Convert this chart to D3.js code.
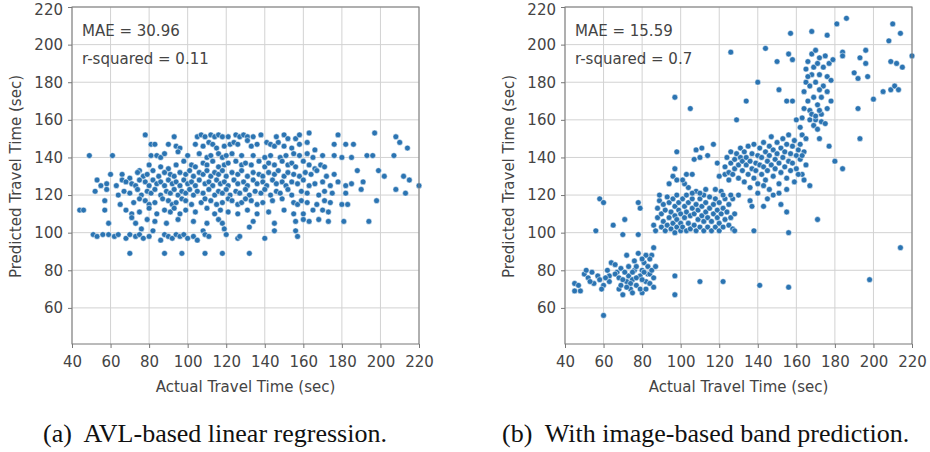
<!DOCTYPE html>
<html><head><meta charset="utf-8">
<script src="https://cdn.jsdelivr.net/npm/d3@7"></script>
<style>body{margin:0;background:#fff}svg{display:block}</style>
</head><body>
<svg id="c" width="930" height="452"></svg>
<script>
const xTicks=[40,60,80,100,120,140,160,180,200,220];
const yTicks=[60,80,100,120,140,160,180,200,220];
const xLabel="Actual Travel Time (sec)";
const yLabel="Predicted Travel Time (sec)";
const statsA=["MAE = 30.96","r-squared = 0.11"];
const statsB=["MAE = 15.59","r-squared = 0.7"];
const captions=["(a)  AVL-based linear regression.","(b)  With image-based band prediction."];

// (a) AVL-based linear regression: [actual, predicted]
const pointsA=[
[78,152],[93,151],[105,151],[107,152],[109,151],[112,152],[114,151],[116,152],[118,151],[121,151],[125,152],[127,151],[129,152],[131,151],[134,151],[138,152],[146,151],[150,152],[152,150],[156,150],[158,152],[163,153],[178,152],[197,153],[208,151],
[81,147],[83,147],[90,147],[94,146],[96,145],[104,147],[108,146],[111,148],[113,147],[115,145],[119,146],[122,147],[124,148],[126,147],[131,149],[133,146],[136,147],[141,148],[143,147],[145,146],[147,148],[150,146],[154,145],[158,147],[162,148],[166,144],[176,147],[182,147],[186,147],[210,148],[214,145],
[49,141],[61,141],[81,141],[84,141],[86,140],[88,142],[95,143],[100,141],[106,142],[110,140],[112,141],[116,142],[118,140],[120,141],[123,142],[128,141],[134,141],[140,140],[143,141],[148,140],[151,141],[155,142],[158,141],[162,142],[165,140],[170,141],[176,141],[180,140],[185,140],[193,141],[196,141],[207,141],
[75,133],[80,136],[86,135],[90,134],[94,136],[98,138],[102,136],[104,135],[108,137],[110,136],[113,138],[116,135],[119,136],[121,137],[125,138],[128,136],[130,137],[133,136],[137,138],[140,135],[142,137],[145,136],[149,138],[152,136],[154,137],[156,135],[160,138],[163,136],[166,134],[169,136],[171,135],
[60,131],[66,131],[70,129],[74,132],[77,130],[79,131],[82,133],[85,130],[88,132],[91,131],[93,130],[96,132],[99,131],[101,133],[103,130],[106,132],[108,131],[110,133],[112,130],[114,132],[116,131],[118,133],[120,130],[123,132],[126,131],[128,133],[131,130],[134,132],[137,131],[139,130],[142,132],[145,131],[147,133],[150,130],[152,132],[155,131],[158,130],[161,132],[164,131],[167,133],[172,130],[176,131],[188,133],[199,133],[202,130],[212,130],
[53,128],[55,125],[58,126],[63,125],[66,128],[68,127],[71,126],[73,125],[75,128],[78,127],[80,125],[82,128],[84,126],[86,127],[88,125],[90,128],[92,126],[94,127],[96,125],[98,128],[100,126],[102,127],[104,125],[106,128],[109,126],[111,127],[113,125],[115,128],[117,126],[119,127],[121,125],[124,128],[126,126],[129,127],[131,125],[134,128],[136,126],[139,127],[141,125],[144,128],[146,126],[149,127],[151,125],[154,127],[157,126],[160,128],[163,125],[166,126],[170,127],[174,125],[178,127],[182,125],[191,127],[208,123],[215,128],[220,125],[185,126],
[52,122],[58,123],[64,120],[67,122],[70,121],[74,123],[76,120],[79,122],[81,121],[83,123],[86,120],[89,122],[91,121],[93,123],[95,120],[97,122],[99,121],[101,123],[103,120],[105,122],[108,121],[111,123],[114,120],[116,122],[118,121],[120,123],[122,120],[125,122],[127,121],[130,123],[132,120],[135,122],[138,121],[140,123],[143,120],[146,122],[148,121],[152,123],[154,120],[159,122],[162,121],[168,120],[171,122],[175,121],[182,121],[190,123],[213,121],
[57,117],[65,115],[72,116],[75,118],[78,117],[80,115],[83,116],[87,118],[90,117],[92,115],[94,116],[97,118],[99,117],[102,115],[107,116],[109,118],[112,117],[115,115],[118,116],[121,118],[123,117],[126,115],[128,116],[130,118],[133,117],[136,115],[139,116],[144,117],[149,118],[155,116],[157,115],[159,117],[162,116],[167,115],[171,117],[174,116],[180,115],[183,115],[198,117],
[44,112],[46,112],[57,112],[68,112],[71,110],[75,111],[80,113],[84,110],[88,112],[91,111],[93,113],[96,110],[99,112],[104,111],[110,113],[114,110],[117,112],[121,111],[126,110],[131,112],[136,110],[142,111],[150,112],[155,110],[160,110],[165,112],[170,112],[173,111],
[59,105],[71,108],[73,105],[79,107],[83,106],[89,105],[95,107],[103,106],[110,105],[116,107],[118,105],[134,106],[145,105],[156,106],[160,107],[163,106],[168,107],[173,106],[181,106],[194,106],
[76,102],[82,101],[108,101],[119,102],[132,103],[145,101],[156,101],[157,98],
[51,99],[53,98],[56,99],[59,99],[62,98],[64,99],[68,97],[70,99],[73,98],[75,99],[77,97],[80,98],[86,96],[88,99],[90,98],[92,97],[94,99],[96,98],[98,99],[100,97],[103,98],[105,96],[109,99],[111,98],[120,99],[126,97],[127,98],[140,97],
[70,89],[88,89],[97,89],[109,89],[118,89],[132,89]
];

// (b) With image-based band prediction: [actual, predicted]
const pointsB=[
[45,73],[45,69],[48,69],[50,78],[52,76],[54,79],[55,73],[57,77],[58,75],[60,72],[60,56],[56,101],[58,118],[60,116],[62,80],[63,77],[64,84],[65,104],[66,83],[67,79],[68,70],[69,72],[70,67],[70,99],[71,107],[72,74],[73,77],[72,88],[74,70],[75,75],[76,80],[77,72],[78,89],[78,99],[78,116],[79,113],[80,68],[80,80],[81,84],[82,74],[83,78],[84,73],[85,88],[86,92],[86,71],[83,82],[79,77],[76,85],[73,82],
[66,78],[68,76],[69,81],[71,79],[74,73],[75,68],[77,76],[79,70],[80,75],[81,79],[82,70],[84,78],[85,80],[86,76],[87,82],[84,86],[82,88],[80,86],[77,82],[75,79],[72,71],[70,75],[63,74],[61,76],[59,70],[53,74],[51,80],[47,72],
[86,104],[87,101],[88,108],[88,113],[89,117],[89,120],[90,103],[90,110],[91,106],[91,115],[92,101],[92,112],[93,119],[93,104],[94,108],[94,116],[95,102],[95,111],[96,105],[96,118],[97,100],[97,109],[97,114],[98,103],[98,107],[98,120],[99,112],[99,116],[100,101],[100,105],[100,110],[101,118],[101,103],[102,108],[102,114],[103,101],[103,111],[103,120],[104,105],[104,116],[105,102],[105,109],[106,113],[106,118],[107,104],[107,110],[108,101],[108,115],[108,122],[109,107],[109,112],[110,103],[110,118],[111,109],[111,114],[112,101],[112,106],[112,120],[113,111],[113,116],[114,103],[114,108],[115,113],[115,119],[116,101],[116,106],[117,110],[117,115],[118,103],[118,118],[119,108],[119,112],[120,101],[120,105],[120,116],[121,110],[121,122],[122,103],[122,113],[123,107],[123,118],[124,111],[125,104],[125,115],[126,108],[127,102],[127,118],[128,110],[126,120],[122,120],[118,123],[113,123],[110,121],[106,121],[104,124],[102,126],[94,126],[96,130],[97,134],[98,128],[101,128],[103,131],[106,131],[107,139],[108,144],[110,140],[111,145],[114,141],[117,147],[119,137],[120,130],[123,131],[125,132],
[123,135],[124,140],[125,128],[126,137],[126,143],[127,131],[128,139],[128,134],[129,142],[130,129],[130,136],[131,140],[131,145],[132,133],[132,138],[133,127],[133,143],[134,136],[134,140],[135,131],[135,146],[136,138],[136,124],[137,134],[137,142],[138,129],[138,147],[139,137],[139,133],[140,141],[140,126],[141,145],[141,136],[142,131],[142,140],[143,148],[143,135],[144,128],[144,143],[145,138],[145,133],[146,146],[146,141],[147,136],[147,151],[148,130],[148,144],[149,139],[149,134],[150,148],[150,142],[151,137],[151,126],[152,145],[152,132],[153,140],[153,150],[154,135],[154,143],[155,129],[155,147],[156,138],[156,152],[157,142],[157,133],[158,146],[158,137],[159,149],[160,141],[160,134],[161,144],[162,139],[162,147],[163,131],[164,143],[165,136],[163,152],[162,156],[160,160],[165,150],[161,131],[159,127],[155,123],[151,121],[148,120],[146,123],[143,125],[140,121],[136,117],
[164,175],[165,180],[165,187],[166,170],[166,191],[167,178],[167,165],[168,184],[168,195],[169,172],[169,188],[170,160],[170,180],[170,197],[171,168],[171,190],[172,184],[172,193],[173,163],[173,172],[174,178],[174,188],[175,194],[176,166],[176,183],[177,190],[178,170],[179,192],[166,183],[168,163],[169,157],[171,155],[173,159],[163,161],[164,166],
[97,172],[105,166],[98,143],[126,196],[144,198],[140,180],[129,160],[134,170],[151,176],[155,170],[158,170],[150,191],[156,195],[158,192],[168,207],[176,205],[181,211],[186,214],[157,206],[214,92],[198,75],[171,107],[141,72],[156,71],[122,74],[110,74],[97,67],[97,77],[138,101],[156,100],[128,101],[155,111],[152,115],[145,118],[143,114],[137,114],[130,120],[193,150],[192,166],[200,171],[205,175],[209,176],[211,178],[213,176],[208,202],[210,211],[214,206],[220,194],[209,191],[212,190],[215,188],[196,197],[196,190],[193,193],[190,185],[197,183],[192,182],[184,196],[184,194],[178,181],[176,175],[172,176],[175,158],[177,146],[172,150],[180,138],[184,134],[167,125],[164,128],[163,141],[167,160],[170,162],[172,165]
];

const svg=d3.select("#c");
const font="DejaVu Sans, sans-serif";
const txt="#444";
const fs="15px";

function panel(x0,x1,pts,stats){
  const yTop=7,yBot=344;
  const x=d3.scaleLinear().domain([40,220]).range([x0,x1]);
  const y=d3.scaleLinear().domain([40.8,220]).range([yBot,yTop]);
  const g=svg.append("g");
  g.append("g").selectAll("line").data(xTicks).join("line")
    .attr("x1",d=>x(d)).attr("x2",d=>x(d)).attr("y1",yTop).attr("y2",yBot)
    .attr("stroke","#d2d2d2").attr("stroke-width",1);
  g.append("g").selectAll("line").data(yTicks).join("line")
    .attr("y1",d=>y(d)).attr("y2",d=>y(d)).attr("x1",x0).attr("x2",x1)
    .attr("stroke","#d2d2d2").attr("stroke-width",1);
  g.append("g").selectAll("circle").data(pts).join("circle")
    .attr("cx",d=>x(d[0])).attr("cy",d=>y(d[1])).attr("r",2.9)
    .attr("fill","#2b74b2").attr("stroke","#ffffff").attr("stroke-width",0.5);
  g.append("rect").attr("x",x0).attr("y",yTop).attr("width",x1-x0).attr("height",yBot-yTop)
    .attr("fill","none").attr("stroke","#777").attr("stroke-width",1);
  const ax=g.append("g").attr("transform",`translate(0,${yBot})`)
    .call(d3.axisBottom(x).tickValues(xTicks).tickSize(4).tickPadding(8));
  const ay=g.append("g").attr("transform",`translate(${x0},0)`)
    .call(d3.axisLeft(y).tickValues(yTicks).tickSize(4).tickPadding(5));
  [ax,ay].forEach(a=>{
    a.select(".domain").remove();
    a.selectAll(".tick line").attr("stroke","#777");
    a.selectAll(".tick text").attr("fill",txt).style("font-family",font).style("font-size",fs);
  });
  // keep the top label fully inside the picture
  ay.selectAll(".tick text").filter(d=>d===220).attr("dy","0.32em").attr("y",3);
  g.append("text").attr("x",(x0+x1)/2).attr("y",392).attr("text-anchor","middle")
    .attr("fill",txt).style("font-family",font).style("font-size",fs).text(xLabel);
  g.append("text").attr("transform",`translate(${x0-51.5},${(yTop+yBot)/2+1}) rotate(-90)`)
    .attr("text-anchor","middle").attr("fill",txt).style("font-family",font).style("font-size",fs).text(yLabel);
  stats.forEach((s,i)=>{
    g.append("text").attr("x",x0+10).attr("y",35.5+i*28).attr("fill",txt)
      .style("font-family",font).style("font-size",fs).text(s);
  });
}
panel(72,419,pointsA,statsA);
panel(565,912,pointsB,statsB);

svg.selectAll(".cap").data(captions).join("text").attr("class","cap")
  .attr("x",(d,i)=>i===0?43:502).attr("y",442)
  .attr("fill","#111").style("font-family","Liberation Serif, serif").style("font-size","26px")
  .attr("xml:space","preserve").style("white-space","pre").text(d=>d);
</script>
</body></html>
